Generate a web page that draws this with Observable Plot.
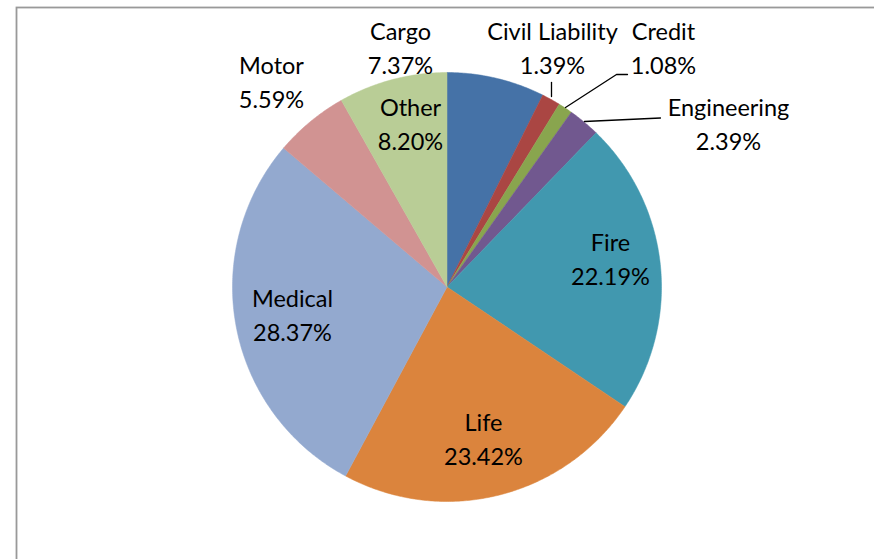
<!DOCTYPE html>
<html>
<head>
<meta charset="utf-8">
<script src="https://cdn.jsdelivr.net/npm/d3@7"></script>
<script src="https://cdn.jsdelivr.net/npm/@observablehq/plot@0.6"></script>
<style>
  html, body { margin: 0; padding: 0; background: #fff; overflow: hidden; }
  #chart svg { display: block; }
</style>
</head>
<body>
<div id="chart"></div>
<script>
// ---- Data ----
const categories = ["Cargo", "Civil Liability", "Credit", "Engineering", "Fire", "Life", "Medical", "Motor", "Other"];
const shares = [7.37, 1.39, 1.08, 2.39, 22.19, 23.42, 28.37, 5.59, 8.20];
const colors = ["#4572A7", "#AA4643", "#89A54E", "#71588F", "#4198AF", "#DB843D", "#93A9CF", "#D19392", "#B9CD96"];

// ---- Layout (pixels) ----
const W = 874, H = 559;
const cx = 446.5, cy = 286.5, R = 214.5;
const labelX = [400, 552, 663, 728, 610, 483, 292, 271, 410];
const labelY = [46, 46, 46, 122, 257, 437, 313, 80, 122];
const leaders = [
  {name: "Civil Liability", pts: [[551, 96], [551, 82]]},
  {name: "Credit", pts: [[565, 107], [616, 74], [627, 74]]},
  {name: "Engineering", pts: [[584, 121], [660, 117.5]]}
];

// ---- Build slices ----
const total = d3.sum(shares);
const slicePts = [];
let acc = 0;
categories.forEach((name, i) => {
  const a0 = acc / total * 2 * Math.PI;
  acc += shares[i];
  const a1 = acc / total * 2 * Math.PI;
  slicePts.push({name, x: cx, y: cy});
  const n = Math.max(2, Math.ceil((a1 - a0) / (Math.PI / 360)));
  for (let k = 0; k <= n; k++) {
    const a = a0 + (a1 - a0) * k / n;
    slicePts.push({name, x: cx + R * Math.sin(a), y: cy - R * Math.cos(a)});
  }
  slicePts.push({name, x: cx, y: cy});
});

const labels = categories.map((name, i) => ({
  name, x: labelX[i], y: labelY[i],
  text: name + "\n" + shares[i].toFixed(2) + "%"
}));

const leaderPts = leaders.flatMap(l => l.pts.map(([x, y]) => ({name: l.name, x, y})));

const chart = Plot.plot({
  width: W,
  height: H,
  margin: 0,
  x: {domain: [0, W], range: [0, W], axis: null},
  y: {domain: [0, H], range: [0, H], axis: null},
  color: {domain: categories, range: colors},
  style: {fontFamily: "Lato, 'Open Sans', sans-serif", background: "#fff"},
  marks: [
    Plot.line(slicePts, {x: "x", y: "y", z: "name", fill: "name", stroke: "name", strokeWidth: 0.5, curve: "linear"}),
    Plot.line(leaderPts, {x: "x", y: "y", z: "name", stroke: "#000", strokeWidth: 1.3}),
    Plot.text(labels, {x: "x", y: "y", text: "text", fontSize: 23.5, lineHeight: 1.45, fill: "#000", textAnchor: "middle"}),
    Plot.frame({stroke: "#999", strokeWidth: 1.8, insetLeft: 16, insetTop: 7, insetRight: -20, insetBottom: -20})
  ]
});
document.getElementById("chart").appendChild(chart);
</script>
</body>
</html>
